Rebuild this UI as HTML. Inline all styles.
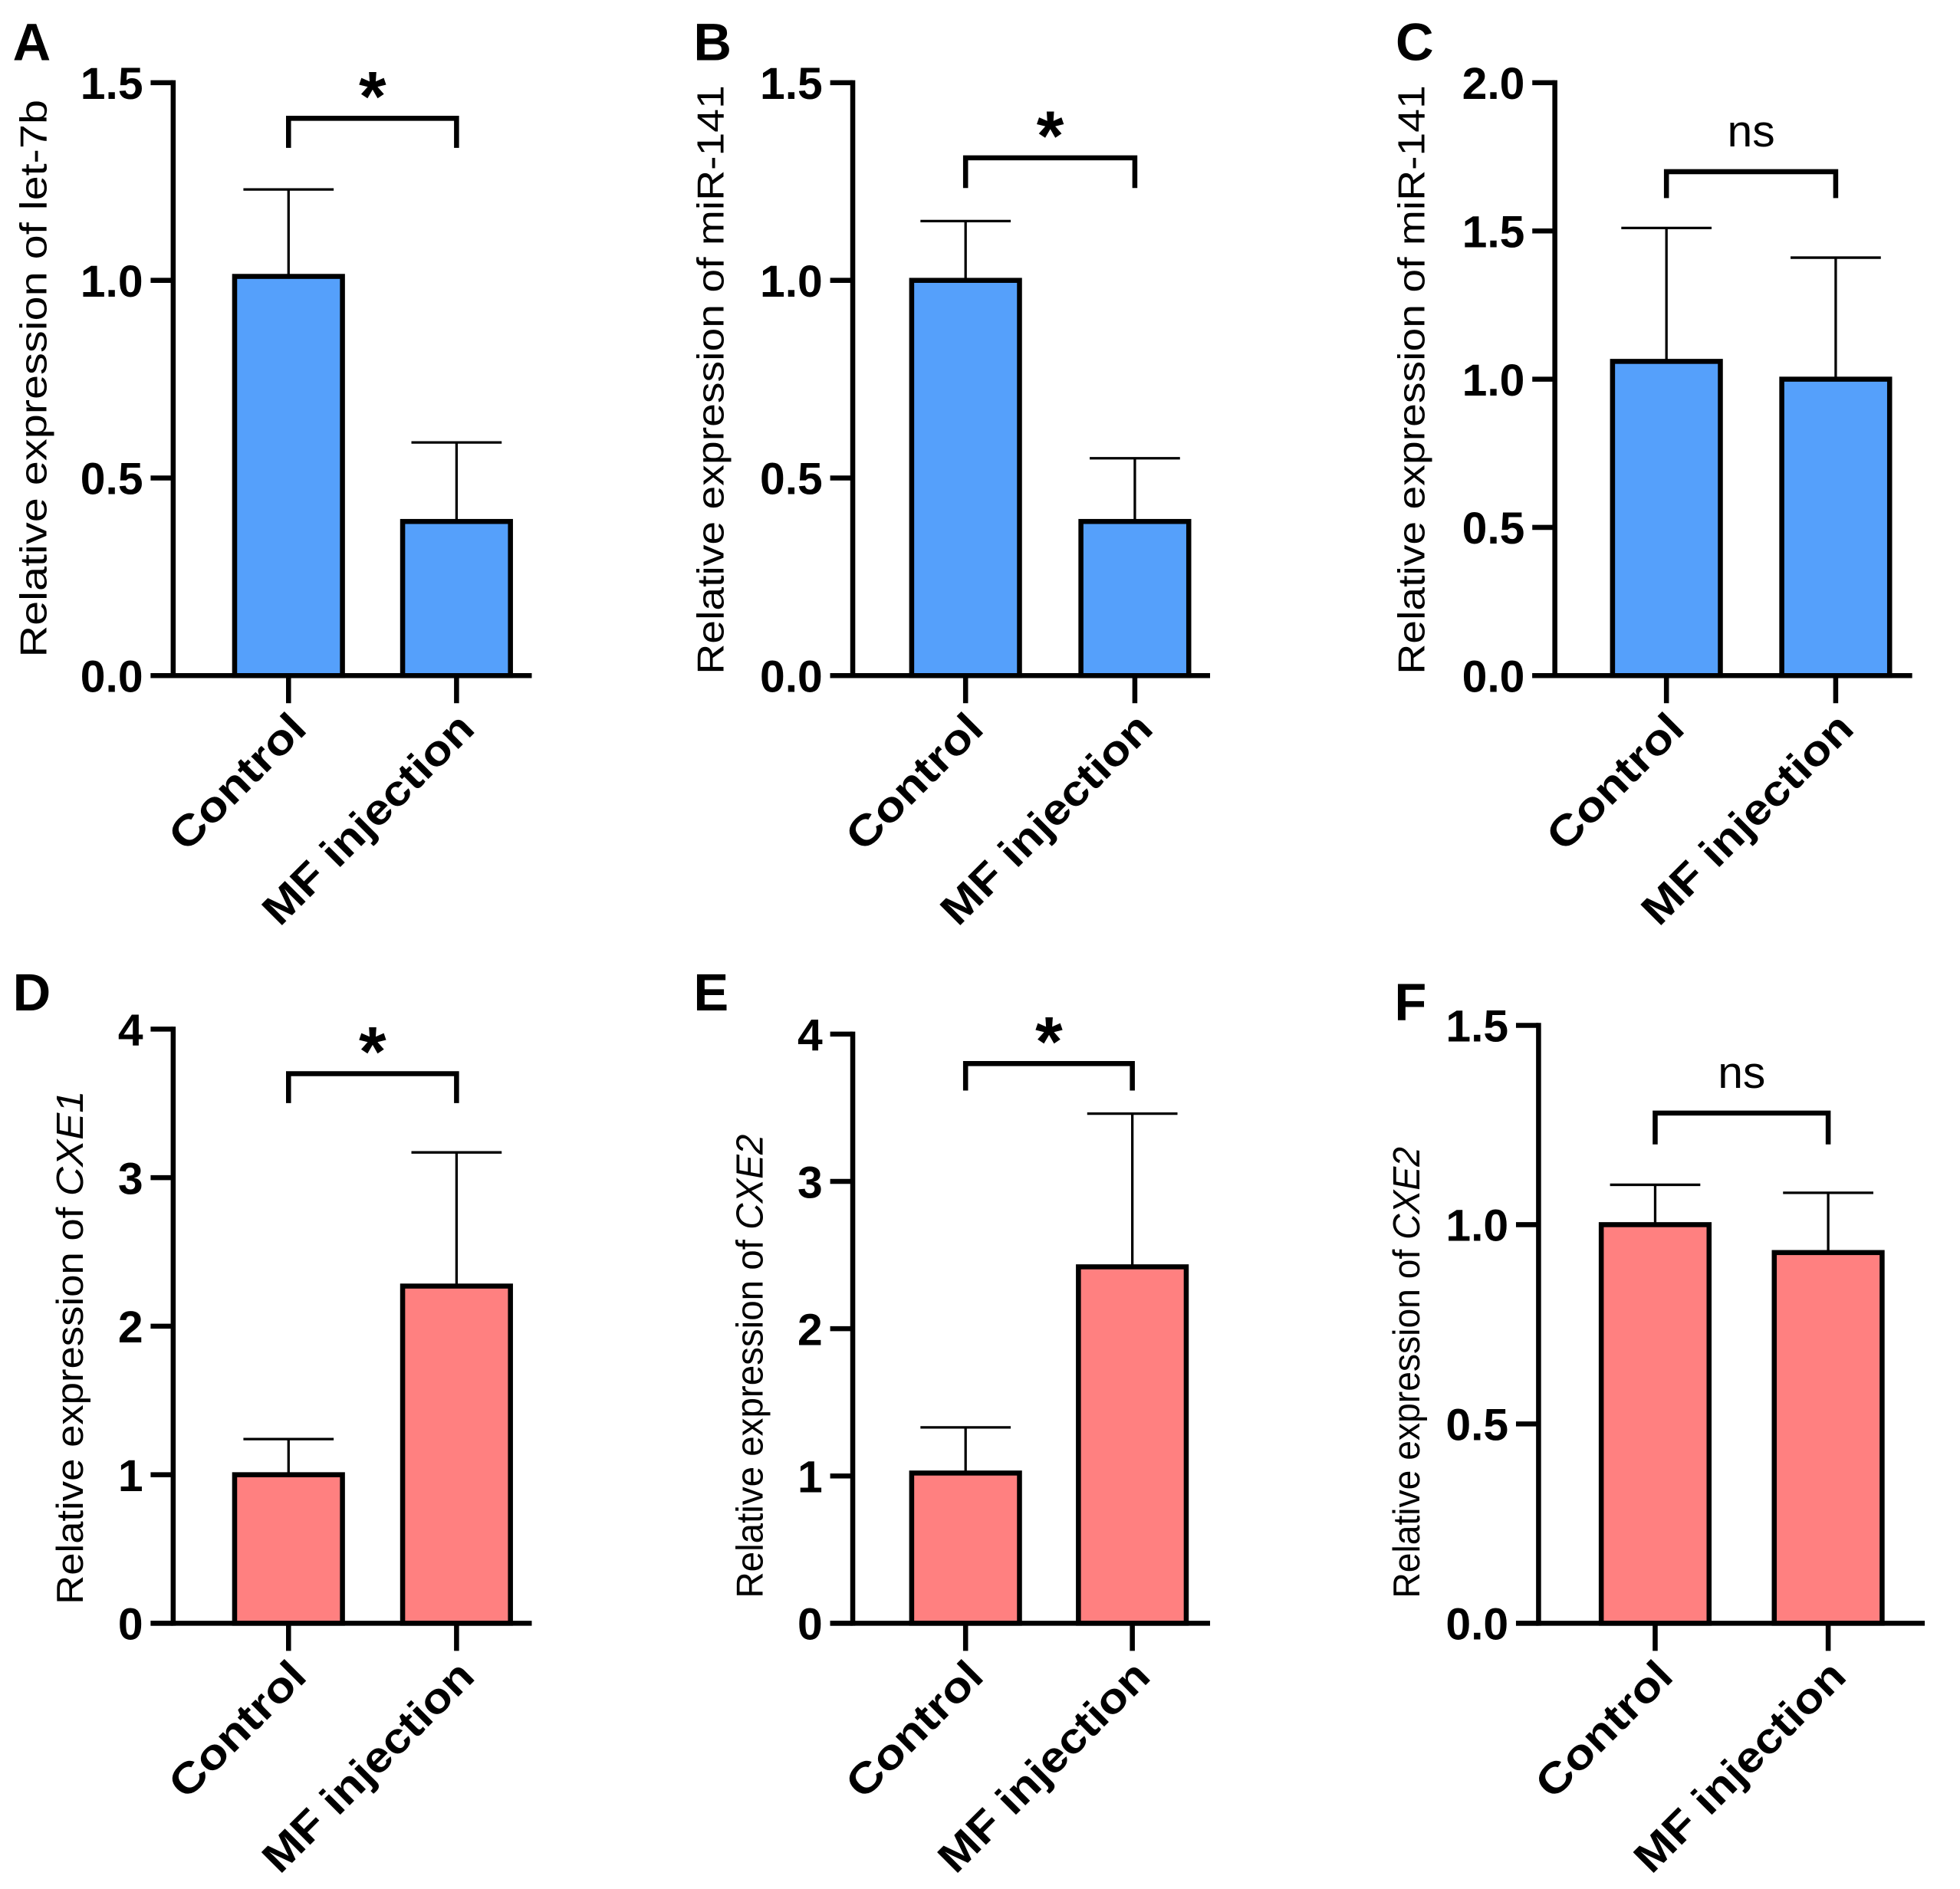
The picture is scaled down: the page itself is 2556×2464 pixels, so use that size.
<!DOCTYPE html>
<html><head><meta charset="utf-8"><style>
html,body{margin:0;padding:0;background:#fff}
svg{display:block}
text{font-family:"Liberation Sans",Arial,sans-serif;fill:#000}
</style></head><body>
<svg id="fig" width="2556" height="2464" viewBox="0 0 1563 1507" xmlns="http://www.w3.org/2000/svg"></svg>
<script>
const categories = ["Control", "MF injection"];
const panelLetters = ["A","B","C","D","E","F"];
const meansA = [1.01, 0.39], errA = [1.23, 0.59];
const meansB = [1.00, 0.39], errB = [1.15, 0.55];
const meansC = [1.06, 1.00], errC = [1.51, 1.41];
const meansD = [1.00, 2.27], errD = [1.24, 3.17];
const meansE = [1.02, 2.42], errE = [1.33, 3.46];
const meansF = [1.00, 0.93], errF = [1.10, 1.08];
const ticksA = ["0.0","0.5","1.0","1.5"];
const ticksC = ["0.0","0.5","1.0","1.5","2.0"];
const ticksD = ["0","1","2","3","4"];
const sigLabels = ["*","*","ns","*","*","ns"];
const sigLevels = [1.41, 1.31, 1.7, 3.7, 3.8, 1.28];

const NS="http://www.w3.org/2000/svg";
const svg=document.getElementById('fig');
function el(tag,attrs,parent){const e=document.createElementNS(NS,tag);for(const k in attrs)e.setAttribute(k,attrs[k]);(parent||svg).appendChild(e);return e;}

const panels=[
 {ax:138,top:66,bot:539,xEnd:424,c:[230,364],means:meansA,errs:errA,ticks:ticksA,color:"#55A0FB",lx:10,ly:48,title:["Relative expression of  let-7b",""],tx:37,ty:302,tl:445,drop:118},
 {ax:680,top:66,bot:539,xEnd:965,c:[770,905],means:meansB,errs:errB,ticks:ticksA,color:"#55A0FB",lx:553,ly:48,title:["Relative expression of miR-141",""],tx:577,ty:303,tl:470,drop:150},
 {ax:1240,top:66,bot:539,xEnd:1525,c:[1329,1464],means:meansC,errs:errC,ticks:ticksC,color:"#55A0FB",lx:1113,ly:48,title:["Relative expression of miR-141",""],tx:1136,ty:303,tl:470,drop:158},
 {ax:138,top:821,bot:1295,xEnd:424,c:[230,364],means:meansD,errs:errD,ticks:ticksD,color:"#FF8080",lx:10,ly:806,title:["Relative expression of  ","CXE1"],tx:66,ty:1075,tl:410,drop:880},
 {ax:680,top:825,bot:1295,xEnd:965,c:[770,903],means:meansE,errs:errE,ticks:ticksD,color:"#FF8080",lx:553,ly:806,title:["Relative expression of ","CXE2"],tx:608,ty:1090,tl:370,drop:870},
 {ax:1227,top:818,bot:1295,xEnd:1535,c:[1320,1458],means:meansF,errs:errF,ticks:ticksA,color:"#FF8080",lx:1112,ly:814,title:["Relative expression of ","CXE2"],tx:1132,ty:1095,tl:360,drop:913}
];

panels.forEach((p,i)=>{
  const g=el('g',{});
  
  
  const maxV=parseFloat(p.ticks[p.ticks.length-1]);
  const y=v=>p.bot-(v/maxV)*(p.bot-p.top);
  const lab=el('text',{x:p.lx,y:p.ly,'font-size':42,'font-weight':'bold'},g);lab.textContent=panelLetters[i];
  
  
  const bw=86;
  p.means.forEach((m,j)=>{
    const cx=p.c[j];
    const eb=el('g',{},g);
    
    
    el('line',{x1:cx,x2:cx,y1:y(m),y2:y(p.errs[j]),stroke:'#000','stroke-width':2},eb);
    el('line',{x1:cx-36,x2:cx+36,y1:y(p.errs[j]),y2:y(p.errs[j]),stroke:'#000','stroke-width':2},eb);
    const r=el('rect',{x:cx-bw/2,y:y(m),width:bw,height:p.bot-y(m),fill:p.color,stroke:'#000','stroke-width':4},g);
    
    
  });
  const ya=el('line',{x1:p.ax,x2:p.ax,y1:p.top-2,y2:p.bot+2,stroke:'#000','stroke-width':4},g);
  
  
  const xa=el('line',{x1:p.ax-18,x2:p.xEnd,y1:p.bot,y2:p.bot,stroke:'#000','stroke-width':4},g);
  
  
  p.ticks.forEach(t=>{
    const v=parseFloat(t),ty=y(v);
    el('line',{x1:p.ax-18,x2:p.ax,y1:ty,y2:ty,stroke:'#000','stroke-width':4},g);
    const tt=el('text',{x:p.ax-24,y:ty+13,'font-size':36,'font-weight':'bold','text-anchor':'end'},g);
    tt.textContent=t;
    
    
  });
  categories.forEach((c,j)=>{
    const cx=p.c[j];
    el('line',{x1:cx,x2:cx,y1:p.bot,y2:p.bot+22,stroke:'#000','stroke-width':4},g);
    const t=el('text',{x:0,y:0,'font-size':34,'font-weight':'bold','text-anchor':'end',textLength:j===0?138:222,lengthAdjust:'spacingAndGlyphs',transform:`translate(${cx+16},${p.bot+44}) rotate(-45)`},g);
    t.textContent=c;
    
    
  });
  const yt=el('text',{x:0,y:0,'font-size':30,'text-anchor':'middle',textLength:p.tl,lengthAdjust:'spacingAndGlyphs',transform:`translate(${p.tx},${p.ty}) rotate(-90)`},g);
  
  
  yt.appendChild(document.createTextNode(p.title[0]));
  if(p.title[1]){const ts=el('tspan',{'font-style':'italic'},yt);ts.textContent=p.title[1];}
  const by=y(sigLevels[i]);
  const br=el('path',{d:`M${p.c[0]},${p.drop} V${by} H${p.c[1]} V${p.drop}`,fill:'none',stroke:'#000','stroke-width':4},g);
  
  
  const isStar=sigLabels[i]==='*';
  const st=el('text',{x:(p.c[0]+p.c[1])/2,y:isStar?by+2:by-20,'font-size':isStar?56:36,'font-weight':isStar?'bold':'normal','text-anchor':'middle'},g);
  st.textContent=sigLabels[i];
  
  
});
</script>
</body></html>
